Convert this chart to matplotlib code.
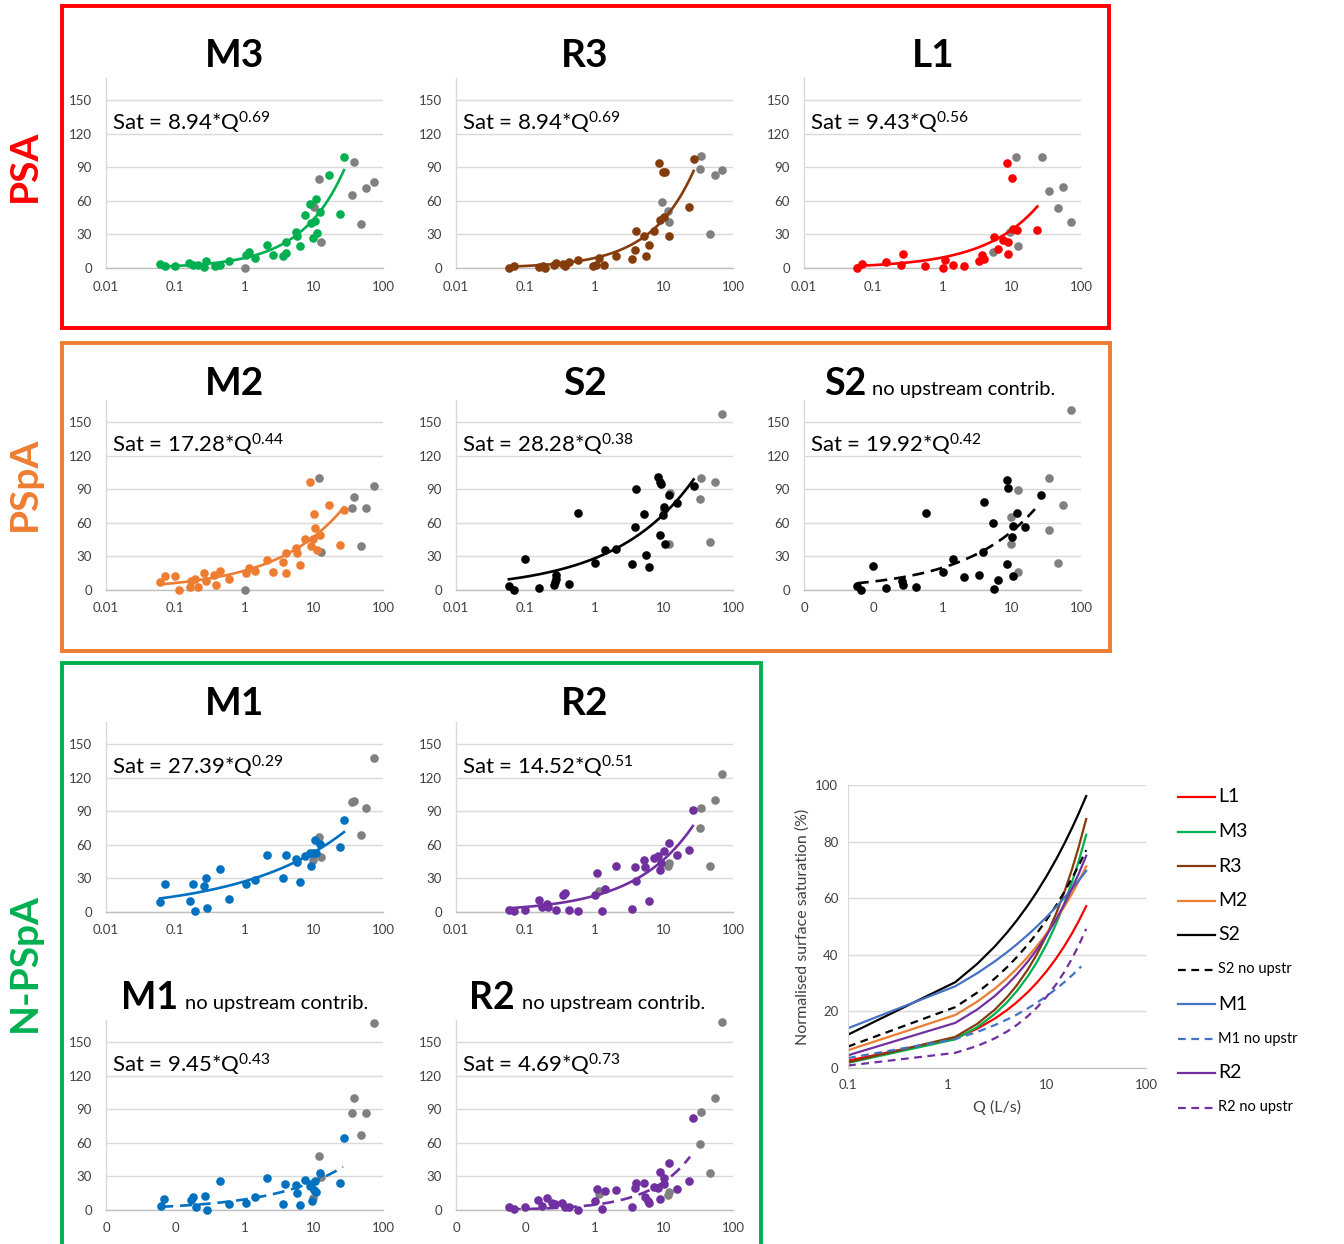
import matplotlib
matplotlib.use("Agg")
import matplotlib.pyplot as plt
import numpy as np
from matplotlib.patches import Rectangle
from matplotlib.lines import Line2D

plt.rcParams['font.family'] = ['Lato', 'DejaVu Sans']
plt.rcParams['mathtext.fontset'] = 'custom'
plt.rcParams['mathtext.rm'] = 'Lato'
plt.rcParams['mathtext.it'] = 'Lato:italic'
plt.rcParams['mathtext.bf'] = 'Lato:bold'

# ---------------- data ----------------
m3_q = [0.06, 0.07, 0.10, 0.16, 0.18, 0.21, 0.26, 0.28, 0.38, 0.44, 0.60, 1.05, 1.15, 1.43, 2.11, 2.57, 3.6, 4.0, 3.93, 5.6, 5.8, 6.4, 7.55, 8.7, 9.1, 9.65, 10.5, 10.7, 11.1, 12.4, 16.4, 24.2, 27.3]
m3_sat = [3.9, 1.5, 2.0, 4.8, 2.7, 2.7, 0.9, 5.9, 2.0, 2.7, 6.5, 11.3, 14.0, 8.9, 21.0, 11.9, 10.4, 13.0, 23.5, 32.0, 28.8, 19.3, 47.2, 57.3, 40.7, 27.0, 42.2, 61.8, 30.9, 50.2, 83.2, 48.1, 99.5]
m3_gray_q = [1.0, 12.1, 10.2, 12.9, 37.7, 36.1, 48.6, 57.5, 73.3]
m3_gray_sat = [0.0, 79.6, 54.6, 23.5, 94.4, 65.0, 39.8, 71.3, 77.2]

r3_q = [0.058, 0.068, 0.156, 0.18, 0.195, 0.257, 0.277, 0.347, 0.379, 0.425, 0.58, 0.95, 1.05, 1.15, 1.36, 2.04, 3.5, 3.9, 3.93, 5.2, 5.5, 6.1, 7.3, 8.4, 8.7, 9.65, 10.5, 10.2, 12.1, 23.0, 27.0]
r3_sat = [0.0, 2.0, 0.6, 1.5, 0.0, 2.7, 4.8, 3.6, 1.5, 5.0, 7.4, 1.5, 2.4, 8.6, 3.0, 11.0, 8.3, 16.3, 32.7, 28.2, 10.4, 20.8, 33.3, 93.6, 43.0, 86.0, 86.0, 45.4, 28.8, 54.4, 97.4]
r3_gray_q = [9.4, 11.5, 12.1, 35.0, 33.7, 47.0, 55.5, 70.5]
r3_gray_sat = [59.4, 51.4, 41.6, 99.8, 88.2, 30.3, 83.2, 87.6]

l1_q = [0.058, 0.068, 0.155, 0.255, 0.27, 0.568, 1.0, 1.1, 1.4, 2.06, 3.35, 3.74, 3.96, 5.58, 6.24, 7.45, 8.4, 8.9, 8.9, 9.95, 10.5, 12.1, 23.4]
l1_sat = [0.3, 3.3, 5.0, 3.0, 12.2, 1.5, 0.0, 7.5, 3.0, 1.5, 6.6, 11.6, 7.8, 27.7, 17.0, 25.4, 94.2, 23.3, 12.2, 80.8, 34.6, 33.7, 33.7]
l1_gray_q = [5.28, 9.4, 11.7, 12.4, 27.0, 34.4, 47.0, 55.6, 71.7]
l1_gray_sat = [14.0, 32.2, 99.3, 19.7, 99.3, 68.6, 54.0, 72.5, 41.5]

m2_q = [0.06, 0.07, 0.10, 0.112, 0.161, 0.17, 0.19, 0.21, 0.263, 0.28, 0.36, 0.39, 0.438, 0.60, 1.05, 1.15, 1.43, 2.11, 2.57, 3.6, 4.0, 4.0, 5.6, 5.8, 6.4, 7.4, 8.7, 9.1, 9.6, 10.2, 10.5, 11.1, 12.4, 16.4, 24.2, 27.3]
m2_sat = [7.4, 12.5, 12.5, 0.0, 3.0, 8.0, 9.5, 3.0, 15.5, 8.0, 13.0, 4.8, 17.0, 9.5, 15.0, 20.0, 17.0, 26.8, 16.0, 25.0, 33.3, 15.5, 37.2, 33.3, 22.0, 45.2, 96.4, 39.3, 45.2, 67.9, 55.7, 35.4, 49.0, 75.9, 40.5, 72.0]
m2_gray_q = [1.0, 12.1, 12.9, 37.7, 36.0, 48.6, 57.5, 73.3]
m2_gray_sat = [0.0, 100.0, 34.0, 83.3, 73.5, 39.0, 73.5, 92.9]

s2_q = [0.058, 0.068, 0.098, 0.157, 0.258, 0.27, 0.28, 0.28, 0.425, 0.58, 1.0, 1.4, 2.07, 3.5, 3.9, 3.95, 5.2, 5.5, 6.1, 8.3, 8.7, 9.1, 8.7, 9.75, 10.2, 10.4, 12.1, 15.5, 27.0]
s2_sat = [3.6, 0.0, 28.0, 1.8, 4.2, 7.1, 10.0, 13.0, 5.7, 69.0, 23.8, 35.7, 36.3, 23.5, 56.3, 90.5, 67.6, 31.3, 20.5, 100.9, 96.7, 95.0, 48.8, 67.0, 74.4, 40.8, 85.0, 77.4, 93.5]
s2_gray_q = [10.0, 12.3, 12.1, 35.0, 33.7, 47.0, 55.5, 70.5]
s2_gray_sat = [72.0, 87.0, 40.8, 100.0, 81.0, 43.0, 97.0, 157.7]

s2nu_q = [0.058, 0.066, 0.10, 0.155, 0.26, 0.27, 0.41, 0.57, 1.0, 1.4, 2.06, 3.4, 3.9, 3.96, 5.3, 5.6, 6.24, 8.4, 8.9, 8.6, 9.95, 10.5, 10.5, 12.1, 15.5, 26.8]
s2nu_sat = [3.6, 0.0, 21.4, 1.5, 8.3, 4.2, 3.0, 69.2, 16.3, 27.3, 11.9, 13.7, 33.6, 78.7, 60.0, 0.9, 8.9, 98.6, 91.5, 22.9, 47.5, 57.3, 12.5, 69.2, 56.4, 84.6]
s2nu_gray_q = [9.6, 9.6, 12.4, 12.4, 35.0, 34.0, 47.0, 55.6, 71.7]
s2nu_gray_sat = [65.3, 41.0, 89.7, 15.7, 100.0, 54.0, 23.8, 76.3, 161.0]

m1_q = [0.06, 0.07, 0.161, 0.18, 0.19, 0.263, 0.28, 0.29, 0.438, 0.60, 1.05, 1.43, 2.11, 3.6, 3.93, 5.6, 5.7, 6.4, 7.4, 8.7, 9.1, 9.6, 10.5, 10.9, 12.4, 24.2, 27.3]
m1_sat = [8.6, 25.3, 10.1, 24.7, 0.6, 23.5, 30.7, 3.6, 38.7, 11.9, 25.3, 28.3, 51.2, 30.7, 51.2, 47.3, 44.3, 26.8, 49.7, 52.7, 40.8, 52.7, 64.0, 52.7, 61.0, 58.6, 82.4]
m1_gray_q = [9.6, 12.1, 12.9, 36.0, 37.7, 48.6, 57.5, 73.3]
m1_gray_sat = [46.7, 67.0, 48.8, 98.0, 99.7, 68.5, 93.5, 137.5]

r2_q = [0.058, 0.068, 0.098, 0.157, 0.175, 0.205, 0.21, 0.28, 0.347, 0.37, 0.425, 0.58, 1.0, 1.1, 1.3, 1.4, 2.07, 3.5, 3.8, 3.95, 5.2, 5.4, 6.1, 7.3, 8.3, 8.7, 9.1, 10.0, 11.9, 15.5, 23.0, 26.3]
r2_sat = [1.5, 0.9, 2.0, 11.0, 4.5, 7.1, 4.5, 1.5, 15.5, 17.0, 1.5, 0.6, 15.5, 34.8, 0.6, 20.5, 40.8, 2.7, 40.2, 28.0, 46.7, 40.0, 9.5, 48.2, 49.7, 37.8, 43.8, 55.0, 61.6, 51.2, 55.7, 91.4]
r2_gray_q = [1.15, 11.5, 12.1, 35.0, 33.7, 47.0, 55.5, 70.5]
r2_gray_sat = [18.5, 40.8, 43.8, 93.5, 75.0, 41.4, 100.3, 123.2]

m1nu_q = [0.063, 0.068, 0.17, 0.18, 0.20, 0.265, 0.29, 0.44, 0.60, 1.05, 1.43, 2.1, 3.6, 3.9, 5.6, 5.7, 6.4, 7.4, 8.7, 9.1, 9.3, 10.0, 10.5, 10.9, 12.4, 24.2, 27.3]
m1nu_sat = [3.6, 9.5, 8.9, 11.9, 2.4, 12.8, 0.0, 26.1, 5.3, 5.9, 11.9, 28.8, 5.3, 23.2, 22.3, 15.4, 4.2, 26.7, 21.4, 23.2, 8.3, 17.8, 26.1, 16.3, 33.3, 24.4, 64.7]
m1nu_gray_q = [9.6, 12.1, 12.9, 36.0, 37.7, 48.6, 57.5, 73.3]
m1nu_gray_sat = [10.4, 48.1, 29.7, 87.0, 100.4, 66.8, 87.0, 167.2]

r2nu_q = [0.058, 0.068, 0.10, 0.153, 0.175, 0.205, 0.24, 0.27, 0.34, 0.37, 0.425, 0.58, 1.0, 1.1, 1.3, 1.4, 2.07, 3.5, 3.8, 3.95, 5.2, 5.4, 5.9, 6.1, 7.3, 8.3, 8.7, 8.9, 10.0, 10.2, 11.9, 15.5, 23.0, 26.3]
r2nu_sat = [2.4, 0.6, 2.4, 8.9, 3.6, 10.4, 5.9, 5.0, 6.5, 3.0, 2.4, 0.0, 8.3, 18.7, 0.9, 16.9, 17.8, 2.4, 19.9, 23.8, 24.4, 11.9, 8.3, 5.9, 20.8, 19.3, 9.5, 34.2, 28.8, 23.2, 42.5, 18.7, 26.1, 82.6]
r2nu_gray_q = [1.15, 11.5, 12.1, 35.0, 33.7, 47.0, 55.5, 70.5]
r2nu_gray_sat = [14.3, 13.4, 16.3, 87.6, 59.4, 32.7, 100.4, 167.8]

# power-law fits shown on each panel: Sat = a * Q^b
fit_names = ["M3", "R3", "L1", "M2", "S2", "S2 no upstr", "M1", "R2", "M1 no upstr", "R2 no upstr"]
fit_a = [8.94, 8.94, 9.43, 17.28, 28.28, 19.92, 27.39, 14.52, 9.45, 4.69]
fit_b = [0.69, 0.69, 0.56, 0.44, 0.38, 0.42, 0.29, 0.51, 0.43, 0.73]
fit_qmin = [0.06, 0.058, 0.058, 0.06, 0.058, 0.058, 0.06, 0.058, 0.063, 0.058]
fit_qmax = [27.3, 27.0, 23.4, 27.3, 27.0, 21.6, 27.3, 26.3, 26.5, 24.0]

xtick_vals = [0.01, 0.1, 1, 10, 100]
xtick_labels = ["0.01", "0.1", "1", "10", "100"]
xtick_labels_nu = ["0", "0", "1", "10", "100"]
ytick_vals = [0, 30, 60, 90, 120, 150]

# summary chart (curves of the fitted relations)
sum_names = ["L1", "M3", "R3", "M2", "S2", "S2 no upstr", "M1", "M1 no upstr", "R2", "R2 no upstr"]
sum_a = [9.43, 8.94, 9.70, 17.28, 28.28, 19.92, 27.39, 9.45, 14.52, 4.69]
sum_b = [0.56, 0.69, 0.685, 0.44, 0.38, 0.42, 0.29, 0.43, 0.51, 0.73]
sum_q = [0.1, 1.2, 2, 3, 4, 5, 6.5, 8, 10, 12.5, 15, 18, 21, 25]
sum_qmax = [25, 25, 25, 25, 25, 25, 25, 22.3, 25, 25]
sum_xticks = [0.1, 1, 10, 100]
sum_xlabels = ["0.1", "1", "10", "100"]
sum_yticks = [0, 20, 40, 60, 80, 100]

# ---------------- styling ----------------
GREEN = "#00B050"; BROWN = "#843C0C"; RED = "#FF0000"; ORANGE = "#ED7D31"
BLACK = "#000000"; BLUE = "#0070C0"; PURPLE = "#7030A0"; GRAY = "#808080"
LBLUE = "#4472C4"

W, H = 1344, 1244
fig = plt.figure(figsize=(W / 100, H / 100), dpi=100)


def px_axes(left, top, width, height):
    return fig.add_axes([left / W, 1 - (top + height) / H, width / W, height / H])


def fx(x):
    return x / W


def fy(y):
    return 1 - y / H


col_left = [106, 456, 804]
row_top = [78, 400, 722, 1020]
AW, AH = 277, 190

panels = [
    # name, col, row, color, q, sat, gq, gsat, fit index, dashed
    ("M3", 0, 0, GREEN, m3_q, m3_sat, m3_gray_q, m3_gray_sat, 0, False),
    ("R3", 1, 0, BROWN, r3_q, r3_sat, r3_gray_q, r3_gray_sat, 1, False),
    ("L1", 2, 0, RED, l1_q, l1_sat, l1_gray_q, l1_gray_sat, 2, False),
    ("M2", 0, 1, ORANGE, m2_q, m2_sat, m2_gray_q, m2_gray_sat, 3, False),
    ("S2", 1, 1, BLACK, s2_q, s2_sat, s2_gray_q, s2_gray_sat, 4, False),
    ("S2", 2, 1, BLACK, s2nu_q, s2nu_sat, s2nu_gray_q, s2nu_gray_sat, 5, True),
    ("M1", 0, 2, BLUE, m1_q, m1_sat, m1_gray_q, m1_gray_sat, 6, False),
    ("R2", 1, 2, PURPLE, r2_q, r2_sat, r2_gray_q, r2_gray_sat, 7, False),
    ("M1", 0, 3, BLUE, m1nu_q, m1nu_sat, m1nu_gray_q, m1nu_gray_sat, 8, True),
    ("R2", 1, 3, PURPLE, r2nu_q, r2nu_sat, r2nu_gray_q, r2nu_gray_sat, 9, True),
]

title_base = [67, 395, 715, 1009]
col_center = [235, 585, 933]
nu_title_x = {(2, 1): (824, 872), (0, 3): (121, 185), (1, 3): (469, 522)}

for name, c, r, color, q, sat, gq, gsat, fi, dashed in panels:
    ax = px_axes(col_left[c], row_top[r], AW, AH)
    ax.set_xscale("log")
    ax.set_xlim(0.01, 100)
    ax.set_ylim(0, 170)
    ax.set_yticks(ytick_vals)
    ax.set_xticks(xtick_vals)
    ax.set_xticklabels(xtick_labels_nu if dashed else xtick_labels)
    ax.minorticks_off()
    ax.tick_params(axis="both", length=0, labelsize=9.5, colors="#404040")
    ax.tick_params(axis="x", pad=9)
    ax.tick_params(axis="y", pad=10)
    ax.grid(axis="y", color="#D9D9D9", linewidth=1.0)
    ax.set_axisbelow(True)
    for s in ["top", "right"]:
        ax.spines[s].set_visible(False)
    ax.spines["left"].set_color("#D9D9D9")
    ax.spines["bottom"].set_color("#BFBFBF")
    ax.spines["left"].set_linewidth(1.0)
    ax.spines["bottom"].set_linewidth(1.0)

    ax.plot(gq, gsat, "o", color=GRAY, markersize=6.2, markeredgewidth=0, clip_on=False, zorder=3)
    ax.plot(q, sat, "o", color=color, markersize=6.2, markeredgewidth=0, clip_on=False, zorder=4)

    qq = np.logspace(np.log10(fit_qmin[fi]), np.log10(fit_qmax[fi]), 200)
    yy = fit_a[fi] * qq ** fit_b[fi]
    if dashed:
        ax.plot(qq, yy, color=color, linewidth=1.9, dashes=(4.5, 2.6), zorder=5)
    else:
        ax.plot(qq, yy, color=color, linewidth=1.9, zorder=5)

    eq = "Sat = %.2f*Q$^{\\mathrm{%.2f}}$" % (fit_a[fi], fit_b[fi])
    ax.text(0.02, 0.765, eq, transform=ax.transAxes, fontsize=16, va="center", ha="left", color="#000000")

    if dashed:
        x0, x1 = nu_title_x[(c, r)]
        fig.text(fx(x0), fy(title_base[r]), name, fontsize=27, fontweight="bold", ha="left", va="baseline")
        fig.text(fx(x1), fy(title_base[r]), "no upstream contrib.",
                 fontsize=14.5, ha="left", va="baseline")
    else:
        fig.text(fx(col_center[c]), fy(title_base[r]), name, fontsize=28, fontweight="bold",
                 ha="center", va="baseline")

# group frames
frames = [(62, 6, 1109, 328, RED), (62, 343, 1110, 651, ORANGE), (62, 663, 761, 1250, GREEN)]
for x0, y0, x1, y1, col in frames:
    fig.patches.append(Rectangle((fx(x0), fy(y1)), fx(x1) - fx(x0), fy(y0) - fy(y1),
                                 transform=fig.transFigure, fill=False, edgecolor=col, linewidth=2.8))

# group labels
fig.text(fx(24), fy(166), "PSA", rotation=90, color=RED, fontsize=28, fontweight="bold", ha="center", va="center")
fig.text(fx(24), fy(484), "PSpA", rotation=90, color=ORANGE, fontsize=28, fontweight="bold", ha="center", va="center")
fig.text(fx(24), fy(962), "N-PSpA", rotation=90, color=GREEN, fontsize=28, fontweight="bold", ha="center", va="center")

# ---------------- summary chart ----------------
sum_colors = [RED, GREEN, BROWN, ORANGE, BLACK, BLACK, LBLUE, LBLUE, PURPLE, PURPLE]
sum_dashed = [False, False, False, False, False, True, False, True, False, True]

axs = px_axes(848, 785, 298, 283)
axs.set_xscale("log")
axs.set_xlim(0.1, 100)
axs.set_ylim(0, 100)
axs.set_xticks(sum_xticks)
axs.set_xticklabels(sum_xlabels)
axs.set_yticks(sum_yticks)
axs.minorticks_off()
axs.tick_params(axis="both", length=0, labelsize=9.5, colors="#404040")
axs.tick_params(axis="x", pad=8)
axs.tick_params(axis="y", pad=7)
axs.grid(axis="y", color="#D9D9D9", linewidth=1.0)
axs.set_axisbelow(True)
for s in ["top", "right"]:
    axs.spines[s].set_visible(False)
axs.spines["left"].set_color("#D9D9D9")
axs.spines["bottom"].set_color("#BFBFBF")
axs.set_ylabel("Normalised surface saturation (%)", fontsize=11.5, color="#404040", labelpad=4)
axs.set_xlabel("Q (L/s)", fontsize=11.5, color="#404040", labelpad=6)

sum_q_arr = np.array(sum_q)
for i, n in enumerate(sum_names):
    qq = sum_q_arr[sum_q_arr <= sum_qmax[i]]
    if qq[-1] < sum_qmax[i]:
        qq = np.append(qq, sum_qmax[i])
    yy = sum_a[i] * qq ** sum_b[i]
    if sum_dashed[i]:
        axs.plot(qq, yy, color=sum_colors[i], linewidth=1.6, dashes=(3.5, 2.5))
    else:
        axs.plot(qq, yy, color=sum_colors[i], linewidth=1.6)

# legend
leg_y0, leg_dy = 797, 34.5
for i, n in enumerate(sum_names):
    y = leg_y0 + i * leg_dy
    ln = Line2D([fx(1178), fx(1215)], [fy(y), fy(y)], transform=fig.transFigure,
                color=sum_colors[i], linewidth=1.6,
                linestyle=(0, (3.5, 2.5)) if sum_dashed[i] else "-")
    fig.lines.append(ln)
    fig.text(fx(1218), fy(y), n, fontsize=10.5 if sum_dashed[i] else 14, ha="left", va="center", color="#000000")

fig.savefig("out.png", dpi=100)
